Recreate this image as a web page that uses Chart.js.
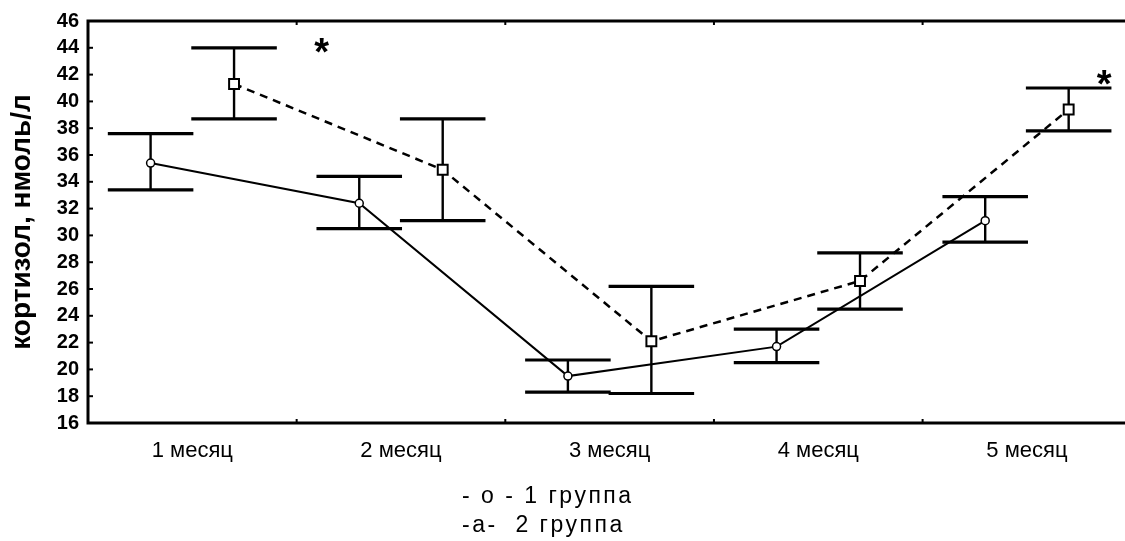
<!DOCTYPE html>
<html>
<head>
<meta charset="utf-8">
<script src="https://cdn.jsdelivr.net/npm/chart.js@4.4.1/dist/chart.umd.min.js"></script>
<style>
    body { margin: 0; background: #fff; }
    .wrap { position: relative; width: 1125px; height: 541px; overflow: hidden; }
    .legend {
        position: absolute;
        left: 462px;
        font-family: "Liberation Sans", Arial, sans-serif;
        font-size: 23px;
        letter-spacing: 2.5px;
        white-space: pre;
        color: #000;
    }
</style>
</head>
<body>
<div class="wrap">
    <canvas id="myChart" width="1125" height="541"></canvas>
    <div class="legend" style="top:482px;">- o - 1 группа</div>
    <div class="legend" style="top:511px;">-a-  2 группа</div>
</div>
<script>
// месяцы наблюдения
const months = ['1 месяц', '2 месяц', '3 месяц', '4 месяц', '5 месяц'];
const yTicks = [16, 18, 20, 22, 24, 26, 28, 30, 32, 34, 36, 38, 40, 42, 44, 46];

// 1 группа: среднее и границы
const group1 = [35.4, 32.4, 19.5, 21.7, 31.1];
const group1Hi = [37.6, 34.4, 20.7, 23.0, 32.9];
const group1Lo = [33.4, 30.5, 18.3, 20.5, 29.5];

// 2 группа: среднее и границы
const group2 = [41.3, 34.9, 22.1, 26.6, 39.4];
const group2Hi = [44.0, 38.7, 26.2, 28.7, 41.0];
const group2Lo = [38.7, 31.1, 18.2, 24.5, 37.8];

// звёздочки (достоверность)
const starX = [1.62, 5.37];
const starY = [43.5, 41.1];

const shift = 0.2;
const capHalf = 0.205;

const errorBars = {
    id: 'errorBars',
    beforeDatasetsDraw(chart) {
        const ctx = chart.ctx;
        const xs = chart.scales.x;
        const ys = chart.scales.y;
        const area = chart.chartArea;
        ctx.save();
        ctx.strokeStyle = '#000';
        // рамка
        ctx.lineWidth = 3;
        ctx.beginPath();
        ctx.moveTo(area.right + 2, area.top);
        ctx.lineTo(area.left, area.top);
        ctx.lineTo(area.left, area.bottom);
        ctx.lineTo(area.right + 2, area.bottom);
        ctx.stroke();
        // засечки
        ctx.lineWidth = 2;
        yTicks.forEach((v) => {
            const py = ys.getPixelForValue(v);
            ctx.beginPath();
            ctx.moveTo(area.left, py);
            ctx.lineTo(area.left + 5, py);
            ctx.stroke();
        });
        for (let i = 1; i < months.length; i++) {
            const px = xs.getPixelForValue(i + 0.5);
            ctx.beginPath();
            ctx.moveTo(px, area.top);
            ctx.lineTo(px, area.top + 4);
            ctx.moveTo(px, area.bottom);
            ctx.lineTo(px, area.bottom - 4);
            ctx.stroke();
        }
        // доверительные интервалы
        const sets = [
            {off: -shift, hi: group1Hi, lo: group1Lo},
            {off: shift, hi: group2Hi, lo: group2Lo},
        ];
        sets.forEach((s) => {
            months.forEach((m, i) => {
                const xv = i + 1 + s.off;
                const px = xs.getPixelForValue(xv);
                const x0 = xs.getPixelForValue(xv - capHalf);
                const x1 = xs.getPixelForValue(xv + capHalf);
                const yh = ys.getPixelForValue(s.hi[i]);
                const yl = ys.getPixelForValue(s.lo[i]);
                ctx.lineWidth = 2.4;
                ctx.beginPath();
                ctx.moveTo(px, yh);
                ctx.lineTo(px, yl);
                ctx.stroke();
                ctx.lineWidth = 3.2;
                ctx.beginPath();
                ctx.moveTo(x0, yh);
                ctx.lineTo(x1, yh);
                ctx.moveTo(x0, yl);
                ctx.lineTo(x1, yl);
                ctx.stroke();
            });
        });
        ctx.restore();
    },
    afterDatasetsDraw(chart) {
        const ctx = chart.ctx;
        const xs = chart.scales.x;
        const ys = chart.scales.y;
        ctx.save();
        ctx.fillStyle = '#000';
        ctx.font = 'bold 38px "Liberation Sans", Arial, sans-serif';
        ctx.textAlign = 'center';
        ctx.textBaseline = 'middle';
        starX.forEach((x, i) => {
            ctx.fillText('*', xs.getPixelForValue(x), ys.getPixelForValue(starY[i]));
        });
        ctx.restore();
    }
};

const ctx = document.getElementById('myChart');
const myChart = new Chart(ctx, {
    type: 'line',
    data: {
        datasets: [{
            label: '1 группа',
            data: group1.map((v, i) => ({x: i + 1 - shift, y: v})),
            borderColor: '#000',
            borderWidth: 2,
            tension: 0,
            pointStyle: 'circle',
            pointRadius: 4,
            pointBorderWidth: 1.5,
            pointBackgroundColor: '#fff',
            pointBorderColor: '#000',
        },
        {
            label: '2 группа',
            data: group2.map((v, i) => ({x: i + 1 + shift, y: v})),
            borderColor: '#000',
            borderWidth: 2.5,
            borderDash: [8, 6],
            tension: 0,
            pointStyle: 'rect',
            pointRadius: 7,
            pointBorderWidth: 2,
            pointBackgroundColor: '#fff',
            pointBorderColor: '#000',
        }]
    },
    options: {
        responsive: false,
        animation: false,
        devicePixelRatio: 1,
        layout: {
            autoPadding: false,
            padding: {top: 20, bottom: 73, left: 0, right: 0},
        },
        plugins: {
            legend: {display: false},
            tooltip: {enabled: false},
        },
        scales: {
            x: {
                type: 'linear',
                min: 0.5,
                max: 5.47,
                afterFit: (scale) => { scale.height = 45; },
                afterBuildTicks: (scale) => {
                    scale.ticks = months.map((m, i) => ({value: i + 1}));
                },
                grid: {display: false, drawTicks: false},
                border: {display: false},
                ticks: {
                    padding: 15,
                    autoSkip: false,
                    maxRotation: 0,
                    color: '#000',
                    font: {family: '"Liberation Sans", Arial, sans-serif', size: 22},
                    callback: (v) => months[Math.round(v) - 1],
                },
            },
            y: {
                min: 16,
                max: 46,
                afterFit: (scale) => { scale.width = 88; },
                afterBuildTicks: (scale) => {
                    scale.ticks = yTicks.map((v) => ({value: v}));
                },
                grid: {display: false, drawTicks: false},
                border: {display: false},
                ticks: {
                    padding: 9,
                    autoSkip: false,
                    color: '#000',
                    font: {family: '"Liberation Sans", Arial, sans-serif', size: 20, weight: 'bold'},
                },
                title: {
                    display: true,
                    text: 'кортизол, нмоль/л',
                    color: '#000',
                    padding: {top: 5, bottom: 0},
                    font: {family: '"Liberation Sans", Arial, sans-serif', size: 28, weight: 'bold'},
                },
            }
        }
    },
    plugins: [errorBars],
});
</script>
</body>
</html>
